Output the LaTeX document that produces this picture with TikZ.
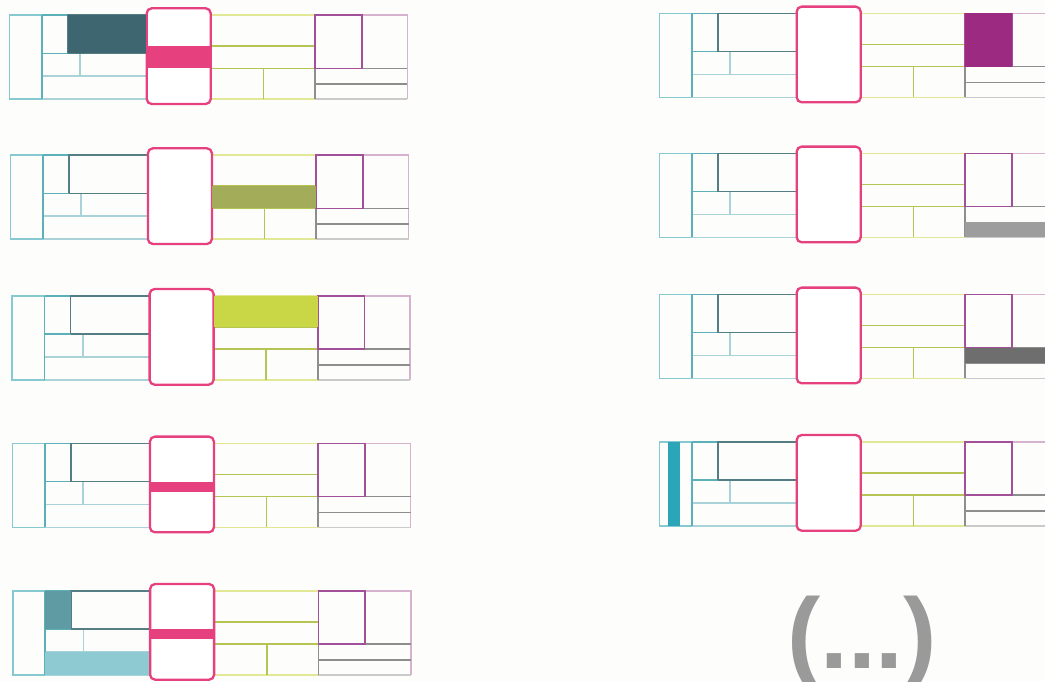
\documentclass[tikz,border=0pt]{standalone}
\usepackage{fontspec}
\newfontfamily\morefont{Liberation Sans}
\usepackage{tikz}
\usetikzlibrary{positioning}

\definecolor{bgcol}{HTML}{FDFDFB}
\definecolor{lighttealc}{HTML}{86C9D1}
\definecolor{midtealc}{HTML}{5BB0BA}
\definecolor{paletealc}{HTML}{A9D3D9}
\definecolor{darklinec}{HTML}{557D84}
\definecolor{palegreenc}{HTML}{E1E794}
\definecolor{olivec}{HTML}{B5C453}
\definecolor{palepurplec}{HTML}{D6B2CF}
\definecolor{purplelinec}{HTML}{A2509A}
\definecolor{graylinec}{HTML}{8E8E8E}
\definecolor{palegrayc}{HTML}{CACACA}
\definecolor{framec}{HTML}{E6407F}
\definecolor{darktealfill}{HTML}{3E6670}
\definecolor{midtealfill}{HTML}{5E9BA2}
\definecolor{lighttealfill}{HTML}{8DCAD2}
\definecolor{olivefill}{HTML}{A3AC58}
\definecolor{limefill}{HTML}{C9D746}
\definecolor{plumfill}{HTML}{9C2A81}
\definecolor{grayfill}{HTML}{9D9D9D}
\definecolor{darkgrayfill}{HTML}{6E6E6E}
\definecolor{cyanfill}{HTML}{2BA6B6}
\definecolor{moregray}{HTML}{9A9A9A}

\begin{document}
\begin{tikzpicture}[
    x=1pt, y=-1pt,
    thin line/.style={line width=1.6pt},
    lightteal/.style={thin line, draw=lighttealc},
    midteal/.style={thin line, draw=midtealc},
    paleteal/.style={thin line, draw=paletealc},
    darkline/.style={thin line, draw=darklinec},
    palegreen/.style={thin line, draw=palegreenc},
    olive/.style={thin line, draw=olivec},
    palepurple/.style={thin line, draw=palepurplec},
    purpleline/.style={thin line, draw=purplelinec},
    grayline/.style={thin line, draw=graylinec},
    palegray/.style={thin line, draw=palegrayc},
    frame/.style={
        draw=framec,
        fill=white,
        line width=2.3pt,
        rounded corners=5pt
    },
    dots/.style={
        anchor=base,
        inner sep=0pt,
        text=moregray,
        font=\morefont\bfseries\fontsize{100}{100}\selectfont
    },
    layout/.pic={
        % outer left box
        \draw[lightteal] (0,0) rectangle (32.4,84);
        % teal block
        \draw[paleteal] (32.4,84) -- (137.4,84);
        \draw[paleteal] (32.4,61) -- (137.4,61);
        \draw[paleteal] (70.7,38.3) -- (70.7,61);
        \draw[midteal] (32.4,0) -- (32.4,84);
        \draw[midteal] (32.4,0) -- (58.4,0);
        \draw[midteal] (32.4,38.3) -- (58.4,38.3);
        \draw[darkline] (58.4,38.3) -- (58.4,0) -- (137.4,0);
        \draw[darkline] (58.4,38.3) -- (137.4,38.3);
        % green block
        \draw[palegreen] (201.4,0) -- (305.7,0);
        \draw[palegreen] (201.4,84) -- (305.7,84);
        \draw[olive] (201.4,31) -- (305.7,31);
        \draw[olive] (201.4,53.3) -- (305.7,53.3);
        \draw[olive] (254,53.3) -- (254,84);
        % purple block
        \draw[palepurple] (352.4,0) -- (398,0) -- (398,84);
        \draw[palegray] (305.7,84) -- (398,84);
        \draw[grayline] (305.7,53.3) -- (305.7,84);
        \draw[grayline] (352.4,53.3) -- (398,53.3);
        \draw[grayline] (305.7,69) -- (398,69);
        \draw[purpleline] (305.7,53.3) -- (305.7,0) -- (352.4,0) -- (352.4,53.3) -- cycle;
        % pink frame
        \draw[frame] (137.4,-6.7) rectangle (201.4,89);
    }
]

\useasboundingbox (0,0) rectangle (1045,681);
\clip (0,0) rectangle (1045,681);
\fill[bgcol] (0,0) rectangle (1045,681);

% Left column
\begin{scope}[shift={(9.3,15)}]
    \pic {layout};
    \fill[darktealfill] (58.4,0) rectangle (136.3,38.3);
    \fill[framec] (137.4,31) rectangle (201.4,53.3);
\end{scope}
\begin{scope}[shift={(10.5,155)}]
    \pic {layout};
    \fill[olivefill] (201.4,31) rectangle (305.7,53.3);
\end{scope}
\begin{scope}[shift={(12.2,295.7)}]
    \pic {layout};
    \fill[limefill] (201.4,0) rectangle (305.7,31);
\end{scope}
\begin{scope}[shift={(12.5,443.3)}]
    \pic {layout};
    \fill[framec] (137.4,38.3) rectangle (201.4,48.5);
\end{scope}
\begin{scope}[shift={(12.7,590.7)}]
    \pic {layout};
    \fill[midtealfill] (32.4,0) rectangle (58.4,38.3);
    \fill[lighttealfill] (32.4,61) rectangle (136.3,84);
    \fill[framec] (137.4,38.3) rectangle (201.4,48.5);
\end{scope}

% Right column
\begin{scope}[shift={(659.3,13.3)}]
    \pic {layout};
    \fill[plumfill] (305.7,0) rectangle (352.4,53.3);
\end{scope}
\begin{scope}[shift={(659.3,153.3)}]
    \pic {layout};
    \fill[grayfill] (305.7,69) rectangle (398,84);
\end{scope}
\begin{scope}[shift={(659.3,294.3)}]
    \pic {layout};
    \fill[darkgrayfill] (305.7,53.3) rectangle (398,69);
\end{scope}
\begin{scope}[shift={(659.3,441.7)}]
    \pic {layout};
    \fill[cyanfill] (9,0) rectangle (20.7,84);
\end{scope}

\node (more) [dots] at (862,668) {(...)};

\end{tikzpicture}
\end{document}
